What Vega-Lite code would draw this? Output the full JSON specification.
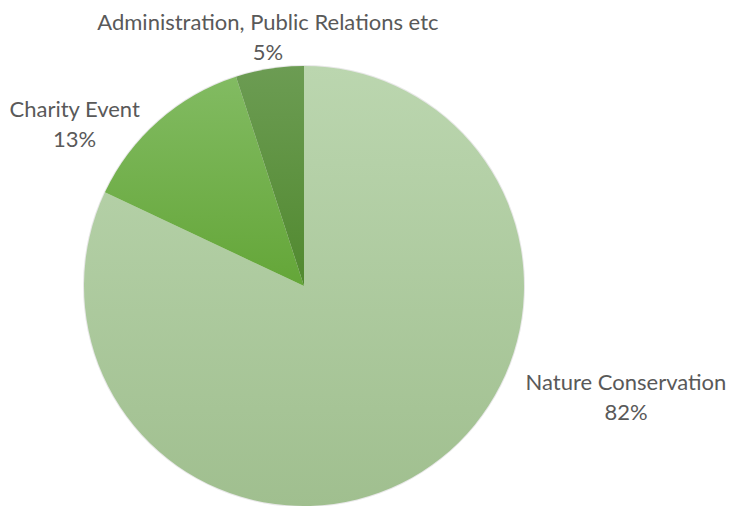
{
  "$schema": "https://vega.github.io/schema/vega-lite/v6.json",
  "width": 608,
  "height": 440,
  "autosize": {"type": "none"},
  "padding": {"left": 0, "right": 127, "top": 66, "bottom": 0},
  "background": "white",
  "data": {
    "values": [
      {"category": "Nature Conservation", "value": 82, "order": 1, "label": "Nature Conservation\n82%"},
      {"category": "Charity Event", "value": 13, "order": 2, "label": "Charity Event\n13%"},
      {"category": "Administration, Public Relations etc", "value": 5, "order": 3, "label": "Administration, Public Relations etc\n5%"}
    ]
  },
  "encoding": {
    "theta": {"field": "value", "type": "quantitative", "stack": true},
    "order": {"field": "order", "type": "quantitative"}
  },
  "layer": [
    {
      "mark": {"type": "arc", "outerRadius": 221, "fill": "#d8d8d8", "opacity": 0.6, "dx": 2, "dy": 3},
      "encoding": {"detail": {"field": "category", "type": "nominal"}}
    },
    {
      "mark": {"type": "arc", "outerRadius": 220},
      "encoding": {
        "fill": {
          "condition": [
            {"test": "datum.category === 'Nature Conservation'", "value": {"gradient": "linear", "x1": 0, "y1": 0, "x2": 0, "y2": 1, "stops": [{"offset": 0, "color": "#bbd6af"}, {"offset": 1, "color": "#a0bf8f"}]}},
            {"test": "datum.category === 'Charity Event'", "value": {"gradient": "linear", "x1": 0, "y1": 0, "x2": 0, "y2": 1, "stops": [{"offset": 0, "color": "#82bb62"}, {"offset": 1, "color": "#64a638"}]}}
          ],
          "value": {"gradient": "linear", "x1": 0, "y1": 0, "x2": 0, "y2": 1, "stops": [{"offset": 0, "color": "#6c9c53"}, {"offset": 1, "color": "#51892f"}]}
        }
      }
    },
    {
      "mark": {"type": "text", "radius": 250, "dx": 188, "dy": -114, "font": "Lato", "fontSize": 22, "color": "#595959", "lineBreak": "\n", "lineHeight": 30, "align": "center", "baseline": "middle"},
      "encoding": {
        "text": {"condition": {"test": "datum.category === 'Nature Conservation'", "field": "label"}, "value": ""}
      }
    },
    {
      "mark": {"type": "text", "radius": 250, "dx": -64, "dy": 12, "font": "Lato", "fontSize": 22, "color": "#595959", "lineBreak": "\n", "lineHeight": 30, "align": "center", "baseline": "middle"},
      "encoding": {
        "text": {"condition": {"test": "datum.category === 'Charity Event'", "field": "label"}, "value": ""}
      }
    },
    {
      "mark": {"type": "text", "radius": 250, "dx": 3, "dy": -16, "font": "Lato", "fontSize": 22, "color": "#595959", "lineBreak": "\n", "lineHeight": 30, "align": "center", "baseline": "middle"},
      "encoding": {
        "text": {"condition": {"test": "datum.category === 'Administration, Public Relations etc'", "field": "label"}, "value": ""}
      }
    }
  ]
}
